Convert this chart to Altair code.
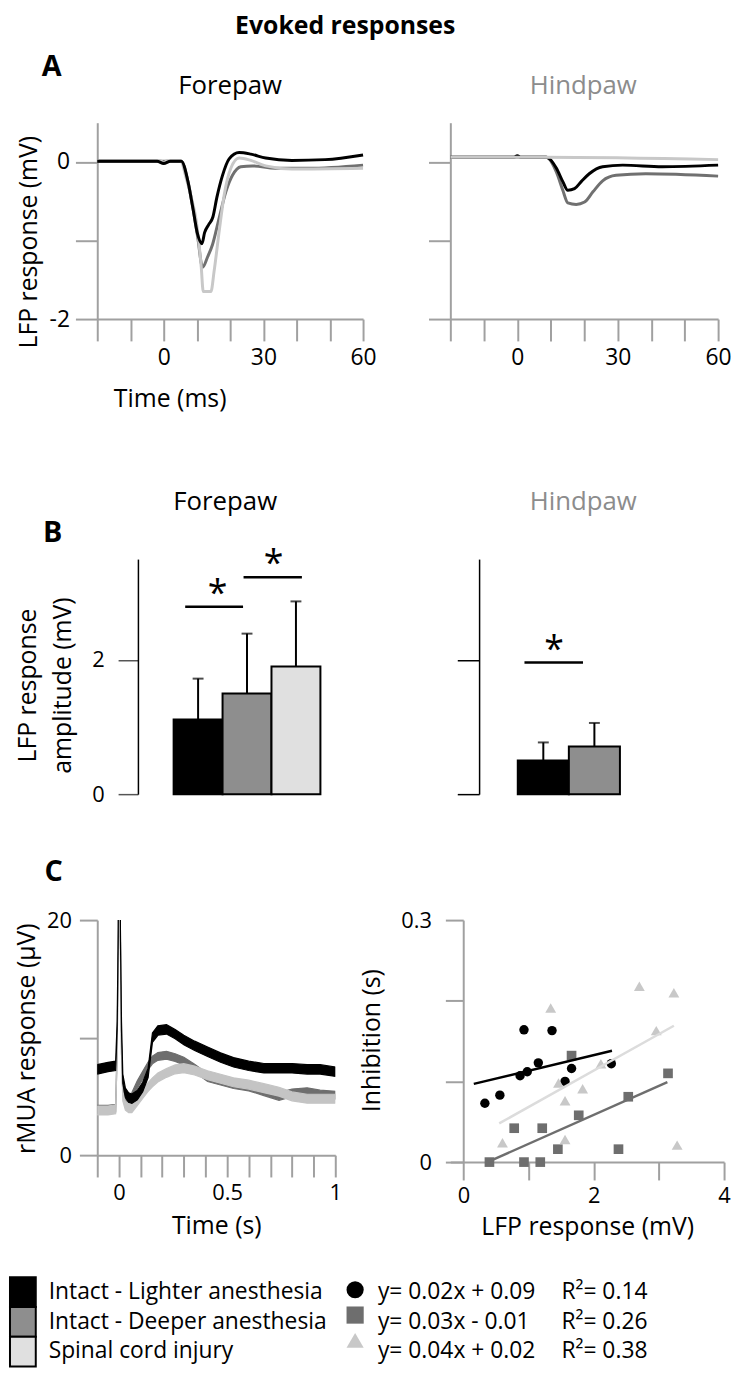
import altair as alt
import pandas as pd

FONT = "Open Sans"
AXIS_GRAY = "#a0a0a0"
TITLE_GRAY = "#8c8c8c"

# ---------------- shared categories ----------------
groups = ["Intact - Lighter anesthesia", "Intact - Deeper anesthesia", "Spinal cord injury"]
bar_colors = ["#000000", "#8e8e8e", "#e0e0e0"]
trace_colors = ["#000000", "#707070", "#c8c8c8"]
mua_colors = ["#000000", "#6e6e6e", "#c4c4c4"]
marker_colors = ["#000000", "#6e6e6e", "#c8c8c8"]
fit_colors = ["#000000", "#6e6e6e", "#dcdcdc"]
marker_shapes = ["circle", "square", "triangle-up"]

# ---------------- Panel A : evoked LFP (time ms, mV) ----------------
fore_black_t = [-20, -2, 0, 2, 5.3, 7.3, 8.8, 10.2, 11.5, 12.3, 13.5, 14.8, 16.0, 17.7, 19.7, 22.7, 26.2, 30.7, 38.6, 48.6, 60]
fore_black_v = [0.01, 0.01, -0.02, 0.01, 0.01, -0.25, -0.59, -0.92, -1.04, -0.90, -0.80, -0.70, -0.45, -0.17, 0.04, 0.12, 0.10, 0.05, 0.02, 0.03, 0.09]
fore_deep_t = [-20, 5.3, 7.3, 8.8, 10.2, 11.7, 13.2, 14.7, 16.7, 18.7, 20.7, 23.2, 26.7, 33.6, 43.6, 60]
fore_deep_v = [0.01, 0.01, -0.25, -0.59, -0.95, -1.34, -1.21, -1.05, -0.71, -0.38, -0.17, -0.06, -0.05, -0.08, -0.08, -0.04]
fore_sci_t = [-20, -1, 0, 1, 5, 6.8, 8.3, 9.8, 11.3, 11.9, 14.2, 15.2, 16.7, 18.2, 20.2, 22.7, 26.2, 30.7, 38.6, 60]
fore_sci_v = [0.02, 0.02, -0.02, 0.02, 0.02, -0.21, -0.45, -0.75, -1.34, -1.65, -1.65, -1.38, -0.88, -0.42, -0.08, 0.05, 0.02, -0.05, -0.09, -0.08]

hind_black_t = [-20, -1, 0, 1, 8.7, 11.7, 13.6, 15.1, 17.1, 19.1, 21.5, 25.5, 31.5, 43.3, 60]
hind_black_v = [0.06, 0.06, 0.08, 0.06, 0.06, -0.08, -0.25, -0.36, -0.34, -0.25, -0.15, -0.06, -0.04, -0.06, -0.04]
hind_deep_t = [-20, 8.7, 11.7, 13.6, 15.1, 17.6, 20.1, 22.6, 25.5, 29.5, 38.4, 60]
hind_deep_v = [0.06, 0.06, -0.13, -0.36, -0.52, -0.54, -0.51, -0.38, -0.24, -0.17, -0.15, -0.18]
hind_sci_t = [-20, 8, 60]
hind_sci_v = [0.06, 0.06, 0.03]

time_ticks_ms = [-20, -10, 0, 10, 20, 30, 40, 50, 60]

# ---------------- Panel B : response amplitude (mV) ----------------
fore_amp = [1.11, 1.50, 1.90]
fore_err_top = [1.72, 2.39, 2.87]
hind_amp = [0.50, 0.71]
hind_err_top = [0.77, 1.06]
fore_sig_y = [2.79, 3.23]
hind_sig_y = [1.96]

# ---------------- Panel C left : rMUA (time s, uV) ----------------
mua_t = [-0.1, -0.05, -0.015, -0.008, -0.003, 0.002, 0.007, 0.012, 0.018, 0.03, 0.045, 0.06, 0.085, 0.11,
         0.135, 0.155, 0.18, 0.22, 0.26, 0.30, 0.35, 0.41, 0.47, 0.53, 0.6, 0.67, 0.74, 0.8, 0.87, 0.93, 1.0]
mua_black = [7.3, 7.5, 7.6, 11, 19, 40, 19, 11, 6.5, 5.3, 4.9, 4.8, 5.1, 5.8,
             7.0, 10.0, 10.6, 10.7, 10.3, 9.8, 9.3, 8.8, 8.3, 7.9, 7.6, 7.4, 7.4, 7.4, 7.3, 7.3, 7.1]
mua_deep = [3.9, 3.9, 4.0, 9, 18, 40, 18, 9, 5.5, 4.7, 4.6, 5.0, 6.0, 6.8,
            7.6, 8.1, 8.4, 8.5, 8.3, 8.0, 7.4, 6.6, 6.3, 6.0, 5.8, 5.4, 5.0, 5.3, 5.4, 5.2, 5.1]
mua_sci = [3.8, 3.8, 3.9, 9, 18, 40, 18, 9, 5.0, 4.2, 4.0, 4.0, 4.6, 5.2,
           5.8, 6.2, 6.6, 7.0, 7.3, 7.4, 7.2, 6.8, 6.5, 6.2, 6.0, 5.7, 5.4, 5.0, 4.8, 4.8, 4.8]
mua_noise = [0.4, 0.33, 0.38]   # half-width of the noisy band
mua_ticks = [-0.1, 0, 0.1, 0.2, 0.3, 0.4, 0.5, 0.6, 0.7, 0.8, 0.9, 1.0]

# ---------------- Panel C right : inhibition vs LFP ----------------
light_x = [0.33, 0.56, 0.87, 0.98, 0.93, 1.15, 1.36, 1.56, 1.66, 2.27]
light_y = [0.073, 0.083, 0.107, 0.112, 0.164, 0.123, 0.163, 0.100, 0.116, 0.122]
deep_x = [0.40, 0.93, 1.18, 0.78, 1.21, 1.45, 1.77, 2.38, 2.53, 1.66, 3.14]
deep_y = [0.0, 0.0, 0.0, 0.042, 0.042, 0.016, 0.058, 0.016, 0.081, 0.132, 0.110]
sci_x = [1.34, 2.70, 3.23, 2.96, 2.11, 1.46, 1.83, 1.56, 0.60, 1.56, 3.28]
sci_y = [0.191, 0.218, 0.210, 0.163, 0.122, 0.098, 0.091, 0.076, 0.024, 0.028, 0.021]
fit_x = [[0.16, 2.28], [0.37, 3.13], [0.55, 3.23]]
fit_y = [[0.097, 0.138], [0.0, 0.099], [0.048, 0.169]]

equations = ["y= 0.02x + 0.09", "y= 0.03x - 0.01", "y= 0.04x + 0.02"]
r2_texts = ["R\u00b2= 0.14", "R\u00b2= 0.26", "R\u00b2= 0.38"]


# ---------------- helpers ----------------
def lab_expr(labels):
    expr = "''"
    for v, s in labels.items():
        expr = f"(datum.value == {v}) ? '{s}' : ({expr})"
    return expr


def make_axis(values, labels, title=None, **kw):
    args = dict(values=values, labelExpr=lab_expr(labels), grid=False,
                domainColor=AXIS_GRAY, tickColor=AXIS_GRAY, domainWidth=2, tickWidth=2,
                tickSize=22, labelFont=FONT, labelFontSize=22, labelColor="#000000",
                labelFlush=False, labelOverlap=False, titleFont=FONT, titleFontSize=25,
                titleFontWeight="normal", titleColor="#000000", title=title)
    args.update(kw)
    return alt.Axis(**args)


def spacer(w=1, h=1):
    return alt.Chart(pd.DataFrame({"s": [""]})).mark_text().encode(text="s:N").properties(width=w, height=h)


def label_spacer(w, h, items):
    # items: (text, x, y, size, weight, color) -- annotation texts relative to this cell
    layers = []
    for txt, x, y, size, weight, color in items:
        layers.append(alt.Chart(pd.DataFrame({"t": [txt]})).mark_text(
            font=FONT, fontSize=size, fontWeight=weight, align="center", baseline="middle", color=color
        ).encode(text="t:N", x=alt.value(x), y=alt.value(y)))
    return alt.layer(*layers).properties(width=w, height=h)


# ---------------- Panel A ----------------
def trace_panel(series, xaxis, yaxis, width):
    layers = []
    for ts, vs, col in series:
        df = pd.DataFrame({"t": ts, "v": vs})
        layers.append(alt.Chart(df).mark_line(color=col, strokeWidth=3, interpolate="monotone").encode(
            x=alt.X("t:Q", scale=alt.Scale(domain=[-20, 60], nice=False, zero=False), axis=xaxis),
            y=alt.Y("v:Q", scale=alt.Scale(domain=[-2, 0.5], nice=False, zero=False), axis=yaxis)))
    return alt.layer(*layers).properties(width=width, height=198)


xA_left = make_axis(time_ticks_ms, {0: "0", 30: "30", 60: "60"}, title="Time (ms)", labelFontSize=23,
                    titleX=73, titleY=80, titleBaseline="middle", labelPadding=6)
yA_left = make_axis([-2, -1, 0], {0: "0", -2: "-2"}, title="LFP response (mV)", labelFontSize=23,
                    titleX=-69, titleY=120, titleAngle=270, titleAlign="center", titleBaseline="middle",
                    labelPadding=6)
xA_right = make_axis(time_ticks_ms, {0: "0", 30: "30", 60: "60"}, labelPadding=6, labelFontSize=23)
yA_right = make_axis([-2, -1, 0], {})

A_left = trace_panel([(fore_deep_t, fore_deep_v, trace_colors[1]),
                      (fore_sci_t, fore_sci_v, trace_colors[2]),
                      (fore_black_t, fore_black_v, trace_colors[0])],
                     xA_left, yA_left, 268)
A_right = trace_panel([(hind_deep_t, hind_deep_v, trace_colors[1]),
                       (hind_black_t, hind_black_v, trace_colors[0]),
                       (hind_sci_t, hind_sci_v, trace_colors[2])],
                      xA_right, yA_right, 270)


# ---------------- Panel B ----------------
def bar_panel(grp, amp, top, sig_y, sig_offsets, width, band_range, yaxis):
    df = pd.DataFrame({"group": grp, "amp": amp, "top": top})
    xscale = alt.Scale(domain=grp, paddingInner=0, paddingOuter=0, range=band_range)
    yscale = alt.Scale(domain=[0, 3.5], nice=False)
    xenc = alt.X("group:N", sort=grp, scale=xscale, axis=None)
    bars = alt.Chart(df).mark_bar(stroke="#000000", strokeWidth=2).encode(
        x=xenc, y=alt.Y("amp:Q", scale=yscale, axis=yaxis),
        color=alt.Color("group:N", scale=alt.Scale(domain=groups, range=bar_colors), legend=None))
    err = alt.Chart(df).mark_rule(color="#000000", strokeWidth=2).encode(
        x=xenc, y=alt.Y("amp:Q", scale=yscale, axis=yaxis), y2="top:Q")
    cap = alt.Chart(df).mark_tick(color="#000000", thickness=2, size=11, orient="horizontal").encode(
        x=xenc, y=alt.Y("top:Q", scale=yscale, axis=yaxis))
    layers = [bars, err, cap]
    for i, sy in enumerate(sig_y):
        sdf = pd.DataFrame({"g1": [grp[i]], "g2": [grp[i + 1]], "y": [sy], "star": ["*"]})
        o1, o2, odx = sig_offsets[i]
        layers.append(alt.Chart(sdf).mark_rule(color="#000000", strokeWidth=2.5, xOffset=o1, x2Offset=o2).encode(
            x=alt.X("g1:N", scale=xscale, axis=None, bandPosition=0.5),
            x2=alt.X2("g2:N", bandPosition=0.5),
            y=alt.Y("y:Q", scale=yscale, axis=yaxis)))
        layers.append(alt.Chart(sdf).mark_text(color="#000000", font=FONT, fontSize=36, baseline="alphabetic",
                                               align="center", dx=odx, dy=-2).encode(
            x=alt.X("g1:N", scale=xscale, axis=None, bandPosition=1),
            y=alt.Y("y:Q", scale=yscale, axis=yaxis), text="star:N"))
    return alt.layer(*layers).properties(width=width, height=237)


yB_left = make_axis([0, 2], {0: "0", 2: "2"}, title=["LFP response", "amplitude (mV)"], offset=-41,
                    domainColor="#000000", domainWidth=1.5, tickColor="#555555", tickWidth=1.5, tickSize=20,
                    labelPadding=14, titleX=-111, titleY=127, titleAngle=270, titleAlign="center",
                    titleBaseline="middle", titleLineHeight=35)
yB_right = make_axis([0, 2], {}, offset=-29, domainColor="#000000", domainWidth=1.5, tickColor="#000000",
                     tickWidth=1.5, tickSize=22)

B_left = bar_panel(groups, fore_amp, fore_err_top, fore_sig_y, [(-13, -4, -5), (-3.5, 6, 2)],
                   261, [77, 225], yB_left)
B_right = bar_panel(groups[:2], hind_amp, hind_err_top, hind_sig_y, [(-19, -11.5, -15)],
                    210, [68, 171], yB_right)


# ---------------- Panel C left : rMUA ----------------
def mua_panel():
    layers = []
    order = [(mua_deep, mua_colors[1], mua_noise[1]), (mua_sci, mua_colors[2], mua_noise[2]),
             (mua_black, mua_colors[0], mua_noise[0])]
    xaxis = make_axis(mua_ticks, {0: "0", 0.5: "0.5", 1: "1"}, title="Time (s)",
                      titleY=71, titleBaseline="middle", labelPadding=6)
    yaxis = make_axis([0, 10, 20], {0: "0", 20: "20"}, title="rMUA response (\u00b5V)", tickSize=18,
                      labelPadding=8, titleX=-71, titleY=119, titleAngle=270, titleAlign="center",
                      titleBaseline="middle")
    for vals, col, hw in order:
        df = pd.DataFrame({"t": mua_t, "v": vals})
        df["lo"] = df["v"] - hw
        df["hi"] = df["v"] + hw
        layers.append(alt.Chart(df).mark_area(color=col, stroke=col, strokeWidth=1.2, clip=True).encode(
            x=alt.X("t:Q", scale=alt.Scale(domain=[-0.1, 1.0], nice=False, zero=False), axis=xaxis),
            y=alt.Y("lo:Q", scale=alt.Scale(domain=[0, 20], nice=False), axis=yaxis),
            y2="hi:Q"))
    return alt.layer(*layers).properties(width=240, height=237)


C_left = mua_panel()


# ---------------- Panel C right : scatter ----------------
def scatter_panel():
    xscale = alt.Scale(domain=[-0.2, 4], nice=False, zero=False)
    yscale = alt.Scale(domain=[0, 0.3], nice=False)
    xaxis = make_axis([0, 1, 2, 3, 4], {0: "0", 2: "2", 4: "4"}, title="LFP response (mV)",
                      titleY=65, titleBaseline="middle", labelPadding=6, tickSize=18)
    yaxis = make_axis([0, 0.1, 0.2, 0.3], {0: "0", 0.3: "0.3"}, title="Inhibition (s)", tickSize=18,
                      offset=-13, labelPadding=14, titleX=-92, titleY=121, titleAngle=270,
                      titleAlign="center", titleBaseline="middle")
    layers = []
    pts = [(light_x, light_y, 90), (deep_x, deep_y, 95), (sci_x, sci_y, 120)]
    for i, (xs, ys, size) in enumerate(pts):
        df = pd.DataFrame({"x": xs, "y": ys})
        layers.append(alt.Chart(df).mark_point(filled=True, opacity=1, shape=marker_shapes[i], size=size,
                                                color=marker_colors[i]).encode(
            x=alt.X("x:Q", scale=xscale, axis=xaxis), y=alt.Y("y:Q", scale=yscale, axis=yaxis)))
    for i in [2, 1, 0]:
        df = pd.DataFrame({"x": fit_x[i], "y": fit_y[i]})
        layers.append(alt.Chart(df).mark_line(color=fit_colors[i], strokeWidth=2.5).encode(
            x=alt.X("x:Q", scale=xscale, axis=xaxis), y=alt.Y("y:Q", scale=yscale, axis=yaxis)))
    return alt.layer(*layers).properties(width=276, height=244)


C_right = scatter_panel()


# ---------------- Legend ----------------
def legend_chart():
    df = pd.DataFrame({"group": groups, "eq": equations, "r2": r2_texts})
    yenc = alt.Y("group:N", sort=groups,
                 scale=alt.Scale(type="band", domain=groups, paddingInner=0, paddingOuter=0), axis=None)
    ysym = alt.Y("group:N", sort=groups,
                 scale=alt.Scale(type="band", domain=groups, paddingInner=0, paddingOuter=0.265, align=0),
                 axis=None)
    sw = alt.Chart(df).mark_rect(stroke="#000000", strokeWidth=2).encode(
        x=alt.value(0), x2=alt.value(26), y=yenc,
        color=alt.Color("group:N", scale=alt.Scale(domain=groups, range=bar_colors), legend=None))
    txt = alt.Chart(df).mark_text(align="left", baseline="middle", font=FONT, fontSize=23, color="#000000").encode(
        x=alt.value(39), y=yenc, text="group:N")
    sym = alt.Chart(df).mark_point(filled=True, opacity=1, size=300).encode(
        x=alt.value(348), y=ysym,
        shape=alt.Shape("group:N", scale=alt.Scale(domain=groups, range=marker_shapes), legend=None),
        fill=alt.Fill("group:N", scale=alt.Scale(domain=groups, range=marker_colors), legend=None))
    eq = alt.Chart(df).mark_text(align="left", baseline="middle", font=FONT, fontSize=23, color="#000000").encode(
        x=alt.value(371), y=yenc, text="eq:N")
    r2 = alt.Chart(df).mark_text(align="left", baseline="middle", font=FONT, fontSize=23, color="#000000").encode(
        x=alt.value(556), y=yenc, text="r2:N")
    return alt.layer(sw, txt, eq, r2, sym).resolve_scale(color="independent", fill="independent",
                                                         y="independent").properties(width=30, height=90)


legend = legend_chart()

# ---------------- Assemble (flush grid, 4 columns) ----------------
letterA = label_spacer(88, 198, [("Evoked responses", 338, -97, 25, "bold", "#000000"),
                                 ("A", 42, -56, 29, "bold", "#000000"),
                                 ("Forepaw", 222, -37, 26, "normal", "#000000"),
                                 ("Hindpaw", 578, -37, 26, "normal", TITLE_GRAY)])
letterB = label_spacer(1, 237, [("B", 43, -26, 29, "bold", "#000000"),
                                ("Forepaw", 217, -57, 26, "normal", "#000000"),
                                ("Hindpaw", 578, -57, 26, "normal", TITLE_GRAY)])
letterC = label_spacer(1, 244, [("C", 44, -48, 29, "bold", "#000000")])

cells = [
    letterA, A_left, spacer(88, 1), A_right,
    spacer(1, 242), spacer(), spacer(), spacer(),
    letterB, B_left, spacer(), B_right,
    spacer(1, 127), spacer(), spacer(), spacer(),
    letterC, C_left, spacer(), C_right,
    spacer(1, 116), spacer(), spacer(), spacer(),
    legend, spacer(), spacer(), spacer(),
]

chart = alt.concat(*cells, columns=4, spacing=0, bounds="flush", align="each").properties(
    padding={"left": 1, "top": 1, "right": 0, "bottom": 0}
).configure(font=FONT).configure_view(stroke=None)

chart.save("out.html", embed_options={"renderer": "svg", "actions": False})
